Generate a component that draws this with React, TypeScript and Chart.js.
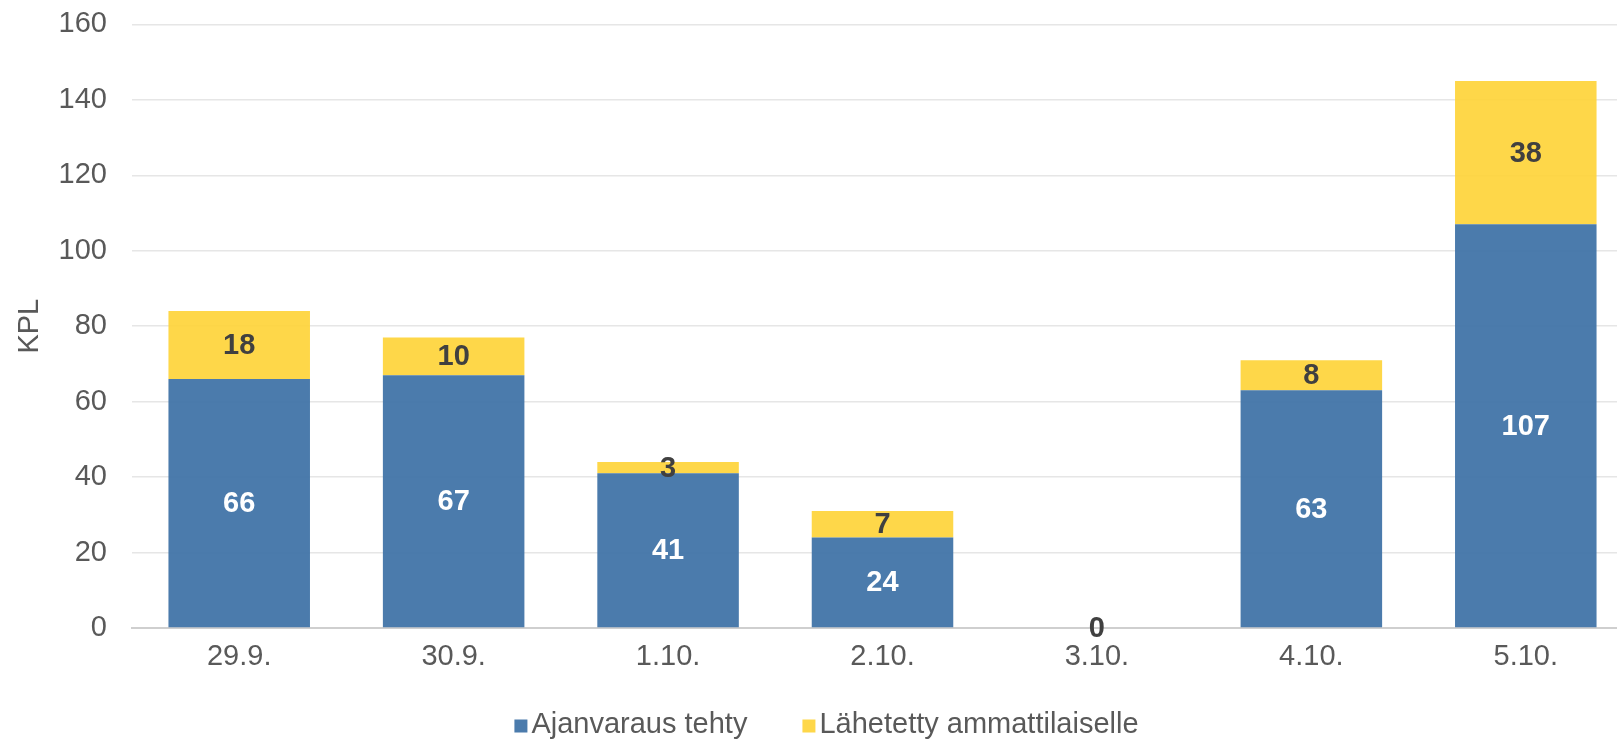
import React, { useEffect, useRef } from "react";
import { Chart, registerables } from "chart.js";

Chart.register(...registerables);

const categories = ["29.9.", "30.9.", "1.10.", "2.10.", "3.10.", "4.10.", "5.10."];
const ajanvaraus = [66, 67, 41, 24, 0, 63, 107];
const lahetetty = [18, 10, 3, 7, 0, 8, 38];
const seriesNames = ["Ajanvaraus tehty", "Lähetetty ammattilaiselle"];
const seriesColors = ["rgba(61,113,166,0.93)", "rgba(254,212,58,0.92)"];
const yTicks = [0, 20, 40, 60, 80, 100, 120, 140, 160];
const yTitle = "KPL";

const FONT = "'Liberation Sans', Arial, sans-serif";
const TEXT = "#595959";

// the chart canvas is a bit larger than the visible page (the reference is cropped at the right)
const CANVAS_W = 1640;
const CANVAS_H = 759;
const SHIFT_TOP = -18;
const VISIBLE_W = 1617;

const labelPlugin = {
  id: "barLabels",
  afterDatasetsDraw(chart: any) {
    const ctx = chart.ctx;
    ctx.save();
    ctx.font = `bold 29px ${FONT}`;
    ctx.textAlign = "center";
    ctx.textBaseline = "middle";
    chart.data.datasets.forEach((ds: any, di: number) => {
      const meta = chart.getDatasetMeta(di);
      meta.data.forEach((el: any, i: number) => {
        const v = ds.data[i];
        if (di === 0 && v === 0) return;
        const props = el.getProps(["x", "y", "base"], true);
        const cy = (props.y + props.base) / 2;
        ctx.fillStyle = di === 0 ? "#ffffff" : "#404040";
        ctx.fillText(String(v), props.x, cy + 1);
      });
    });
    ctx.restore();
  },
};

const legendPlugin = {
  id: "bottomLegend",
  afterDraw(chart: any) {
    const ctx = chart.ctx;
    ctx.save();
    ctx.font = `29px ${FONT}`;
    ctx.textBaseline = "middle";
    const box = 13;
    const gap = 4;
    const spacing = 55;
    const widths = seriesNames.map((n) => ctx.measureText(n).width);
    const total = widths.reduce((a, w) => a + box + gap + w, 0) + spacing * (seriesNames.length - 1);
    let x = VISIBLE_W / 2 + 18 - total / 2;
    const y = chart.height - 16;
    seriesNames.forEach((n, i) => {
      ctx.fillStyle = seriesColors[i];
      ctx.fillRect(x, y - box / 2 + 1, box, box);
      x += box + gap;
      ctx.fillStyle = TEXT;
      ctx.fillText(n, x, y);
      x += widths[i] + spacing;
    });
    ctx.restore();
  },
};

export default function App() {
  const ref = useRef<HTMLCanvasElement>(null);
  useEffect(() => {
    document.body.style.margin = "0";
    document.body.style.overflow = "hidden";
    document.documentElement.style.overflow = "hidden";
    if (!ref.current) return;
    const chart = new Chart(ref.current, {
      type: "bar",
      data: {
        labels: categories,
        datasets: [
          {
            label: seriesNames[0],
            data: ajanvaraus,
            backgroundColor: seriesColors[0],
            barPercentage: 0.66,
            categoryPercentage: 1,
          },
          {
            label: seriesNames[1],
            data: lahetetty,
            backgroundColor: seriesColors[1],
            barPercentage: 0.66,
            categoryPercentage: 1,
          },
        ],
      },
      options: {
        responsive: true,
        maintainAspectRatio: false,
        animation: false,
        layout: { padding: { top: 8, right: 7, left: 0, bottom: 0 } },
        plugins: {
          tooltip: { enabled: false },
          legend: { display: false },
        },
        scales: {
          x: {
            stacked: true,
            grid: { display: false, drawTicks: false },
            border: { display: true, color: "#cfcfcf", width: 2 },
            ticks: { color: TEXT, font: { family: FONT, size: 29 }, padding: 12 },
            afterFit: (s: any) => {
              s.height = 113;
            },
          },
          y: {
            stacked: true,
            min: 0,
            max: 160,
            afterBuildTicks: (s: any) => {
              s.ticks = yTicks.map((v) => ({ value: v }));
            },
            afterFit: (s: any) => {
              s.width = 132;
            },
            grid: { color: "#e6e6e6", lineWidth: 1.5, drawTicks: false },
            border: { display: false },
            ticks: { color: TEXT, font: { family: FONT, size: 29 }, padding: 25 },
            title: {
              display: true,
              text: yTitle,
              color: TEXT,
              font: { family: FONT, size: 29 },
              padding: { top: 13, bottom: 0 },
            },
          },
        },
      },
      plugins: [labelPlugin, legendPlugin],
    });
    return () => chart.destroy();
  }, []);
  return (
    <div style={{ width: VISIBLE_W, height: 741, overflow: "hidden", position: "relative" }}>
      <div style={{ position: "absolute", left: 0, top: SHIFT_TOP, width: CANVAS_W, height: CANVAS_H }}>
        <canvas ref={ref} />
      </div>
    </div>
  );
}
